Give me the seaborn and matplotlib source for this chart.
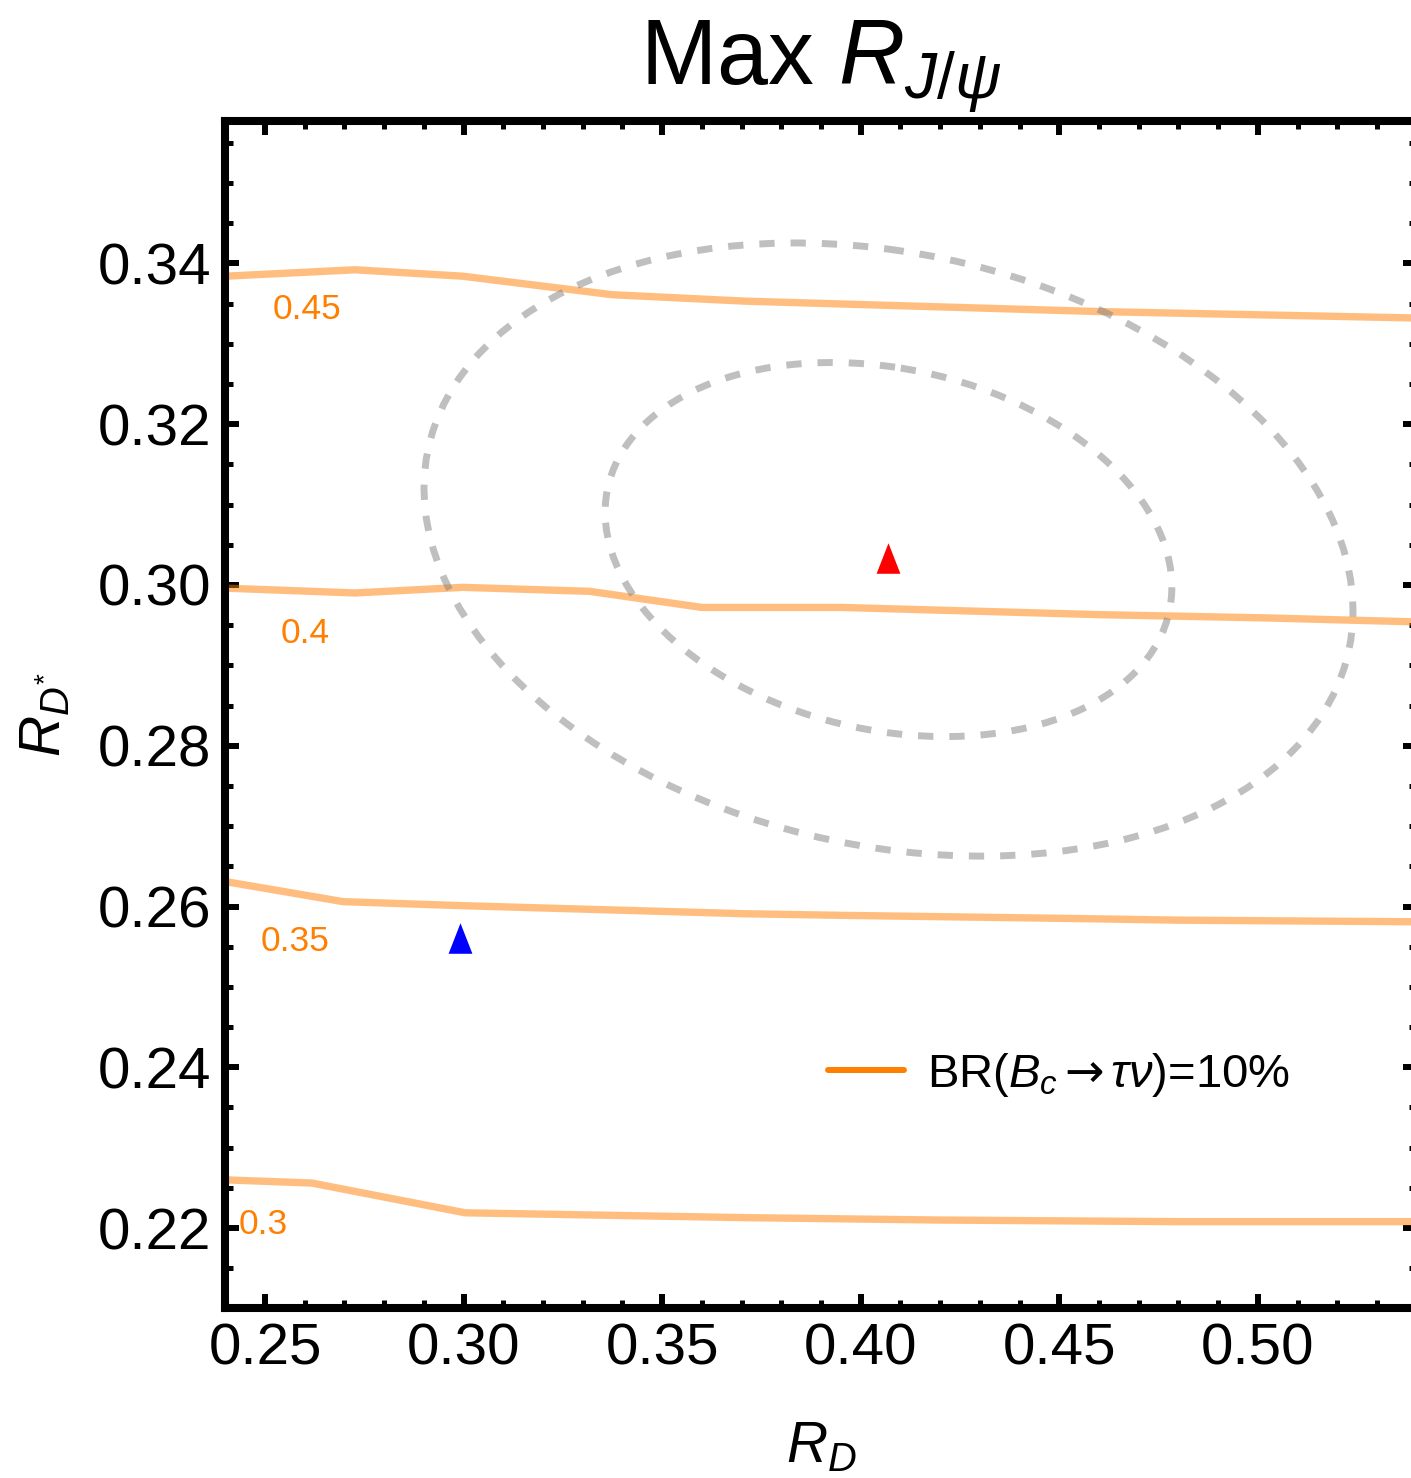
import numpy as np
import pandas as pd
import matplotlib
matplotlib.use("Agg")
import matplotlib.pyplot as plt
import seaborn as sns
from matplotlib.patches import Ellipse
from matplotlib.lines import Line2D
from matplotlib.ticker import MultipleLocator, FormatStrFormatter

# ---------------- data ----------------
# contour lines of Max R_{J/psi} in the (R_D, R_D*) plane
levels = ["0.45", "0.4", "0.35", "0.3"]
x_045 = [0.2400, 0.2727, 0.2998, 0.3374, 0.3708, 0.4602, 0.5400]
y_045 = [0.3384, 0.3392, 0.3384, 0.3361, 0.3353, 0.3340, 0.3332]
x_040 = [0.2400, 0.2727, 0.2998, 0.3318, 0.3600, 0.3953, 0.4602, 0.5018, 0.5400]
y_040 = [0.2996, 0.2990, 0.2997, 0.2992, 0.2972, 0.2972, 0.2963, 0.2959, 0.2954]
x_035 = [0.2400, 0.2697, 0.2999, 0.3708, 0.3953, 0.4547, 0.4803, 0.5400]
y_035 = [0.2631, 0.2606, 0.2601, 0.2591, 0.2589, 0.2585, 0.2583, 0.2581]
x_030 = [0.2400, 0.2618, 0.3004, 0.3708, 0.4199, 0.4800, 0.5400]
y_030 = [0.2260, 0.2256, 0.2219, 0.2213, 0.2210, 0.2208, 0.2208]

# contour label positions
label_x = [0.2606, 0.2601, 0.2576, 0.2496]
label_y = [0.3342, 0.2940, 0.2556, 0.2204]

# experimental average (ellipses) and points
exp_center = (0.407, 0.3044)
exp_sigma = (0.04705, 0.01534)
exp_rho = -0.20
chi2_levels = [2.30, 6.18]          # 1 sigma, 2 sigma (2 d.o.f.)
exp_point = (0.407, 0.3034)          # red triangle
sm_point = (0.299, 0.2561)           # blue triangle

legend_label = "BR($B_c\\,\\mathsf{→}\\,\\tau\\nu$)=10%"

# ---------------- style ----------------
sns.set_style("white")
plt.rcParams["font.family"] = ["Liberation Sans", "DejaVu Sans"]
plt.rcParams["mathtext.fontset"] = "custom"
plt.rcParams["mathtext.rm"] = "Liberation Sans"
plt.rcParams["mathtext.it"] = "Liberation Sans:italic"
plt.rcParams["mathtext.bf"] = "Liberation Sans:bold"
plt.rcParams["mathtext.sf"] = "DejaVu Sans"
for k in ["text.color", "axes.labelcolor", "xtick.color", "ytick.color", "axes.edgecolor"]:
    plt.rcParams[k] = "black"

fig = plt.figure(figsize=(14.11, 14.78), dpi=100)
ax = fig.add_axes([0.1597, 0.1147, 0.8443, 0.8034])

# contour lines
frames = []
for lev, xs, ys in zip(levels, [x_045, x_040, x_035, x_030], [y_045, y_040, y_035, y_030]):
    frames.append(pd.DataFrame({"RD": xs, "RDs": ys, "level": lev}))
df = pd.concat(frames, ignore_index=True)
sns.lineplot(data=df, x="RD", y="RDs", hue="level", units="level", estimator=None,
             sort=False, palette={l: "#ff7f00" for l in levels}, alpha=0.5,
             linewidth=5.3, legend=False, ax=ax, zorder=2)

for lev, lx, ly in zip(levels, label_x, label_y):
    ax.text(lx, ly, lev, color="#ff7f00", fontsize=25.5, ha="center", va="center", zorder=4)

# ellipses
sx, sy = exp_sigma
cov = np.array([[sx**2, exp_rho * sx * sy], [exp_rho * sx * sy, sy**2]])
vals, vecs = np.linalg.eigh(cov)
angle = np.degrees(np.arctan2(vecs[1, 1], vecs[0, 1]))
for c2 in chi2_levels:
    w = 2 * np.sqrt(c2 * vals[1])
    h = 2 * np.sqrt(c2 * vals[0])
    e = Ellipse(exp_center, w, h, angle=angle, fill=False, edgecolor="#808080",
                alpha=0.5, linewidth=5.0, linestyle=(0, (2.2, 2.3)), zorder=3)
    ax.add_patch(e)

# markers
tri = [(-0.39, -0.5), (0.39, -0.5), (0.0, 0.5), (-0.39, -0.5)]
ax.scatter([exp_point[0]], [exp_point[1]], marker=tri, s=22**2, color="#ff0000",
           linewidths=0, zorder=5)
ax.scatter([sm_point[0]], [sm_point[1]], marker=tri, s=22**2, color="#0000ff",
           linewidths=0, zorder=5)

# axes
ax.set_xlim(0.24, 0.54)
ax.set_ylim(0.21, 0.3577)
ax.xaxis.set_major_locator(MultipleLocator(0.05))
ax.xaxis.set_minor_locator(MultipleLocator(0.01))
ax.yaxis.set_major_locator(MultipleLocator(0.02))
ax.yaxis.set_minor_locator(MultipleLocator(0.005))
ax.xaxis.set_major_formatter(FormatStrFormatter("%.2f"))
ax.yaxis.set_major_formatter(FormatStrFormatter("%.2f"))
ax.tick_params(which="both", direction="in", top=True, right=True, bottom=True, left=True,
               color="black", labelcolor="black", labelsize=42, pad=10)
ax.tick_params(which="major", length=10, width=4.3)
ax.tick_params(which="minor", length=5.8, width=3.6)
for sp in ax.spines.values():
    sp.set_linewidth(5.8)
    sp.set_color("black")
    sp.set_visible(True)

ax.set_xlabel(r"$R_D$", fontsize=41, color="black")
ax.xaxis.set_label_coords(0.5, -0.094)
ax.set_ylabel(r"$R_{D^{*}}$", fontsize=41, color="black")
ax.yaxis.set_label_coords(-0.1287, 0.5)

ax.text(0.5, 1.0303, r"Max $R_{J/\psi}$", transform=ax.transAxes, ha="center",
        va="baseline", fontsize=66, color="black")

handle = Line2D([0], [0], color="#ff8000", linewidth=4.3)
leg = ax.legend(handles=[handle], labels=[legend_label], loc="center left",
                bbox_to_anchor=(0.5059, 0.1966), frameon=False, fontsize=34,
                handlelength=1.6, handletextpad=0.5, borderpad=0, borderaxespad=0)
for t in leg.get_texts():
    t.set_color("black")

fig.savefig("out.png", dpi=100)
